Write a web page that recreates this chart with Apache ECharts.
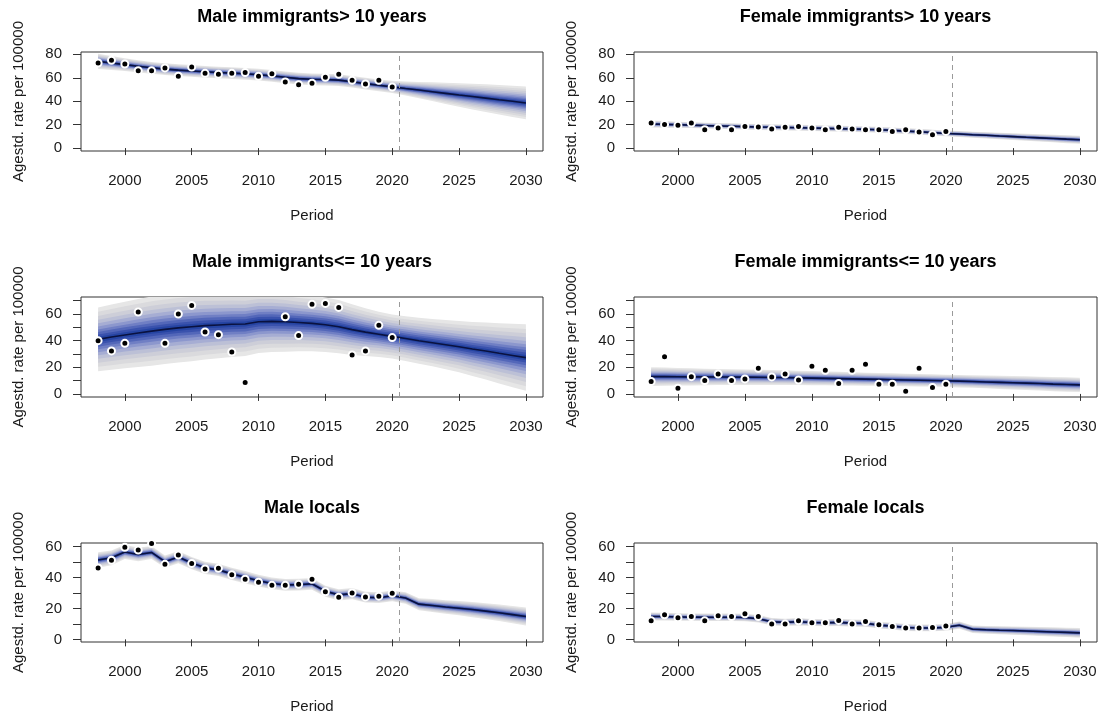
<!DOCTYPE html>
<html>
<head>
<meta charset="utf-8">
<script src="https://cdn.jsdelivr.net/npm/echarts@6/dist/echarts.min.js"></script>
<style>
  html, body { margin: 0; padding: 0; background: #ffffff; }
  #chart { width: 1102px; height: 718px; }
</style>
</head>
<body>
<div id="chart"></div>
<script>
// Projection years (fitted + forecast) and observation years
const years = [1998, 1999, 2000, 2001, 2002, 2003, 2004, 2005, 2006, 2007, 2008,
  2009, 2010, 2011, 2012, 2013, 2014, 2015, 2016, 2017, 2018, 2019, 2020,
  2021, 2022, 2023, 2024, 2025, 2026, 2027, 2028, 2029, 2030];
const obsYears = [1998, 1999, 2000, 2001, 2002, 2003, 2004, 2005, 2006, 2007, 2008,
  2009, 2010, 2011, 2012, 2013, 2014, 2015, 2016, 2017, 2018, 2019, 2020];

const xTicks = [2000, 2005, 2010, 2015, 2020, 2025, 2030];
const forecastStart = 2020.5;

// Male immigrants > 10 years
const obsMaleLong = [72.6, 74.9, 71.8, 66.1, 66.1, 68.4, 61.3, 69.2, 63.8, 63.0, 63.8,
  64.4, 61.3, 63.5, 56.4, 54.1, 55.3, 60.4, 63.0, 57.8, 54.7, 57.8, 52.1];
const medMaleLong = [74.0, 72.6, 71.2, 69.8, 68.5, 67.4, 66.5, 65.8, 65.1, 64.5, 64.0,
  63.4, 62.6, 61.6, 60.4, 59.3, 58.7, 58.5, 58.0, 56.6, 55.0, 53.6, 52.2,
  50.8, 49.5, 48.1, 46.7, 45.3, 44.0, 42.6, 41.2, 39.9, 38.5];
const spreadMaleLong = [6.5, 6.0, 5.5, 5.2, 5.0, 5.0, 5.0, 5.0, 5.0, 5.0, 5.0,
  5.0, 5.0, 5.0, 5.0, 5.0, 5.0, 5.0, 5.0, 5.0, 5.0, 5.0, 5.2,
  6.0, 7.0, 8.0, 9.0, 10.0, 11.0, 11.8, 12.6, 13.3, 14.0];

// Female immigrants > 10 years
const obsFemaleLong = [21.4, 20.2, 19.4, 21.4, 15.7, 17.1, 15.7, 18.5, 17.9, 16.2, 17.7,
  18.5, 17.1, 15.7, 17.7, 16.2, 15.7, 15.7, 14.2, 15.7, 13.7, 11.4, 14.2];
const medFemaleLong = [20.5, 20.2, 19.9, 19.6, 19.2, 18.9, 18.6, 18.3, 18.0, 17.8, 17.6,
  17.4, 17.1, 16.8, 16.6, 16.3, 16.0, 15.6, 15.1, 14.5, 13.9, 13.2, 12.5,
  12.0, 11.4, 10.9, 10.3, 9.8, 9.2, 8.7, 8.2, 7.6, 7.1];
const spreadFemaleLong = [3.0, 2.8, 2.6, 2.5, 2.5, 2.5, 2.5, 2.5, 2.5, 2.5, 2.5,
  2.5, 2.5, 2.5, 2.5, 2.5, 2.5, 2.5, 2.5, 2.5, 2.5, 2.5, 2.4,
  2.5, 2.6, 2.7, 2.8, 2.9, 3.0, 3.1, 3.2, 3.4, 3.5];

// Male immigrants <= 10 years
const obsMaleShort = [40.0, 32.3, 38.0, 61.5, null, 38.0, 60.0, 66.5, 46.5, 44.5, 31.5,
  8.5, null, null, 58.0, 43.8, 67.3, 68.0, 65.0, 29.3, 32.3, 51.5, 42.3];
const medMaleShort = [41.0, 42.7, 44.3, 45.8, 47.2, 48.5, 49.6, 50.5, 51.3, 51.8, 52.3,
  52.5, 54.2, 54.5, 54.2, 53.6, 53.0, 52.0, 50.5, 48.3, 46.4, 44.8, 43.2,
  41.6, 40.0, 38.5, 37.0, 35.5, 33.8, 32.2, 30.5, 28.9, 27.3];
const spreadMaleShort = [24.0, 24.5, 25.0, 25.5, 26.0, 26.0, 26.0, 26.0, 25.5, 25.0, 24.5,
  24.0, 23.5, 23.0, 22.5, 21.5, 21.0, 20.5, 20.0, 19.0, 18.0, 17.0, 16.5,
  16.8, 17.3, 17.8, 18.5, 19.2, 20.3, 21.4, 22.6, 23.8, 25.0];

// Female immigrants <= 10 years
const obsFemaleShort = [9.3, 28.0, 4.3, 13.0, 10.0, 15.0, 10.0, 11.3, 19.3, 12.8, 15.0,
  10.5, 20.8, 17.8, 7.8, 17.8, 22.3, 7.3, 7.3, 2.0, 19.3, 4.8, 7.3];
const medFemaleShort = [13.0, 13.0, 12.9, 12.8, 12.8, 12.7, 12.7, 12.6, 12.5, 12.4, 12.3,
  12.1, 11.9, 11.7, 11.5, 11.3, 11.1, 10.9, 10.7, 10.5, 10.3, 10.1, 9.9,
  9.6, 9.3, 9.0, 8.7, 8.4, 8.1, 7.8, 7.4, 7.1, 6.8];
const spreadFemaleShort = [7.0, 6.8, 6.6, 6.4, 6.2, 6.0, 5.9, 5.8, 5.7, 5.6, 5.5,
  5.4, 5.3, 5.2, 5.1, 5.0, 4.9, 4.8, 4.8, 4.7, 4.7, 4.6, 4.6,
  4.7, 4.7, 4.8, 4.9, 5.0, 5.1, 5.2, 5.3, 5.4, 5.4];

// Male locals
const obsMaleLocal = [46.2, 51.2, 59.6, 57.8, 62.0, 48.6, 54.6, 49.2, 45.6, 46.0, 41.9,
  38.9, 37.0, 35.0, 35.0, 35.7, 38.9, 30.8, 27.3, 30.1, 27.5, 28.0, 29.9];
const medMaleLocal = [51.4, 52.8, 56.6, 55.0, 56.3, 50.3, 53.3, 49.4, 46.3, 45.0, 42.4,
  40.2, 38.0, 36.2, 35.3, 35.4, 36.0, 31.2, 28.8, 29.6, 27.3, 27.0, 28.2,
  26.8, 22.8, 21.9, 21.0, 20.2, 19.3, 18.3, 17.2, 16.0, 14.8];
const spreadMaleLocal = [5.0, 4.8, 4.6, 4.4, 4.2, 4.0, 4.0, 4.0, 4.0, 4.0, 4.0,
  4.0, 3.8, 3.8, 3.8, 3.8, 3.8, 3.6, 3.6, 3.6, 3.5, 3.5, 3.5,
  3.7, 3.9, 4.2, 4.4, 4.6, 4.9, 5.1, 5.3, 5.6, 5.8];

// Female locals
const obsFemaleLocal = [12.0, 15.9, 14.0, 14.8, 12.0, 15.3, 14.8, 16.6, 14.8, 9.9, 9.9,
  12.0, 10.8, 10.8, 12.3, 9.9, 11.6, 9.5, 8.4, 7.3, 7.3, 7.7, 8.6];
const medFemaleLocal = [14.8, 14.8, 14.5, 14.4, 14.3, 14.3, 14.3, 14.2, 13.4, 11.4, 11.0,
  11.4, 10.9, 10.8, 11.0, 10.5, 10.4, 9.2, 8.6, 7.7, 7.4, 7.4, 7.8,
  9.2, 6.6, 6.2, 5.9, 5.7, 5.4, 5.1, 4.8, 4.5, 4.2];
const spreadFemaleLocal = [2.6, 2.5, 2.4, 2.4, 2.4, 2.4, 2.4, 2.4, 2.4, 2.4, 2.4,
  2.4, 2.3, 2.3, 2.3, 2.3, 2.3, 2.2, 2.2, 2.2, 2.2, 2.2, 2.2,
  2.3, 2.4, 2.5, 2.6, 2.7, 2.8, 2.9, 3.0, 3.0, 3.1];

// Y tick sets
const yTicks80 = [0, 20, 40, 60, 80];
const yLabels80 = [0, 20, 40, 60, 80];
const yTicks70 = [0, 10, 20, 30, 40, 50, 60, 70];
const yLabels70 = [0, 20, 40, 60];
const yTicks60 = [0, 10, 20, 30, 40, 50, 60];
const yLabels60 = [0, 20, 40, 60];

// Fan layers: fraction of the outer half-width, outermost first
const fanLevels = [1.00, 0.86, 0.73, 0.61, 0.50, 0.40, 0.31, 0.23, 0.15, 0.08];
const fanColors = ['#e6e6e6', '#dadadd', '#cdced8', '#bcc0d6', '#a6add3',
  '#8c97cd', '#707fc4', '#5367b9', '#3a52ad', '#2544a2'];

const panels = [
  { title: 'Male immigrants> 10 years', obs: obsMaleLong, med: medMaleLong, spread: spreadMaleLong,
    yMin: -2.5, yMax: 82, yTicks: yTicks80, yLabels: yLabels80,
    box: { left: 81, top: 52, width: 462, height: 99 } },
  { title: 'Female immigrants> 10 years', obs: obsFemaleLong, med: medFemaleLong, spread: spreadFemaleLong,
    yMin: -2.5, yMax: 82, yTicks: yTicks80, yLabels: yLabels80,
    box: { left: 634, top: 52, width: 463, height: 99 } },
  { title: 'Male immigrants<= 10 years', obs: obsMaleShort, med: medMaleShort, spread: spreadMaleShort,
    yMin: -2.3, yMax: 72.8, yTicks: yTicks70, yLabels: yLabels70,
    box: { left: 81, top: 297, width: 462, height: 100 } },
  { title: 'Female immigrants<= 10 years', obs: obsFemaleShort, med: medFemaleShort, spread: spreadFemaleShort,
    yMin: -2.3, yMax: 72.8, yTicks: yTicks70, yLabels: yLabels70,
    box: { left: 634, top: 297, width: 463, height: 100 } },
  { title: 'Male locals', obs: obsMaleLocal, med: medMaleLocal, spread: spreadMaleLocal,
    yMin: -1.7, yMax: 62.4, yTicks: yTicks60, yLabels: yLabels60,
    box: { left: 81, top: 543, width: 462, height: 99 } },
  { title: 'Female locals', obs: obsFemaleLocal, med: medFemaleLocal, spread: spreadFemaleLocal,
    yMin: -1.7, yMax: 62.4, yTicks: yTicks60, yLabels: yLabels60,
    box: { left: 634, top: 543, width: 463, height: 99 } }
];

const FONT = '"Liberation Sans", Arial, sans-serif';
const TEXT = '#1a1a1a';

function plainNumber(v) { return String(v); }

function fanRenderer(med, spread) {
  return function (params, api) {
    const children = [];
    fanLevels.forEach(function (f, k) {
      const up = [];
      const lo = [];
      years.forEach(function (y, i) {
        up.push(api.coord([y, med[i] + spread[i] * f]));
        lo.push(api.coord([y, med[i] - spread[i] * f]));
      });
      children.push({
        type: 'polygon',
        shape: { points: up.concat(lo.reverse()) },
        style: { fill: fanColors[k] },
        silent: true
      });
    });
    return { type: 'group', children: children };
  };
}

const grids = [], xAxes = [], yAxes = [], series = [], graphics = [];

panels.forEach(function (p, i) {
  grids.push({
    left: p.box.left, top: p.box.top, width: p.box.width, height: p.box.height,
    show: true, borderColor: '#333', borderWidth: 1, backgroundColor: 'transparent'
  });
  xAxes.push({
    type: 'value', gridIndex: i, min: 1996.72, max: 2031.28,
    axisLine: { show: false }, splitLine: { show: false },
    axisTick: { show: true, customValues: xTicks, length: 7, lineStyle: { color: '#333' } },
    axisLabel: { customValues: xTicks, formatter: plainNumber, margin: 22, fontSize: 15,
      color: TEXT, fontFamily: FONT },
    name: 'Period', nameLocation: 'middle', nameGap: 57,
    nameTextStyle: { fontSize: 15, color: TEXT, fontFamily: FONT }
  });
  yAxes.push({
    type: 'value', gridIndex: i, min: p.yMin, max: p.yMax,
    axisLine: { show: false }, splitLine: { show: false },
    axisTick: { show: true, customValues: p.yTicks, length: 8, lineStyle: { color: '#333' } },
    axisLabel: { customValues: p.yLabels, formatter: plainNumber, margin: 19, fontSize: 15,
      color: TEXT, fontFamily: FONT },
    name: 'Agestd. rate per 100000', nameLocation: 'middle', nameGap: 55,
    nameTextStyle: { fontSize: 15, color: TEXT, fontFamily: FONT }
  });

  series.push({
    type: 'custom', xAxisIndex: i, yAxisIndex: i, clip: true, silent: true, z: 1,
    data: [[2010, 30]],
    renderItem: fanRenderer(p.med, p.spread)
  });
  series.push({
    type: 'line', xAxisIndex: i, yAxisIndex: i, z: 3,
    data: years.map(function (y, k) { return [y, p.med[k]]; }),
    showSymbol: false, symbol: 'none',
    lineStyle: { color: '#0a1240', width: 1.6 },
    markLine: {
      silent: true, symbol: ['none', 'none'], label: { show: false },
      lineStyle: { color: '#9a9a9a', type: [5, 4], width: 1 },
      data: [{ xAxis: forecastStart }]
    }
  });
  series.push({
    type: 'scatter', xAxisIndex: i, yAxisIndex: i, z: 4, clip: true,
    data: obsYears.map(function (y, k) { return [y, p.obs[k]]; })
      .filter(function (d) { return d[1] !== null; }),
    symbol: 'circle', symbolSize: 7,
    itemStyle: { color: '#000', borderColor: '#fff', borderWidth: 2, opacity: 1 }
  });

  graphics.push({
    type: 'text',
    x: p.box.left + p.box.width / 2, y: p.box.top - 35,
    style: {
      text: p.title, fontSize: 18, fontWeight: 'bold', fontFamily: FONT,
      fill: '#000', textAlign: 'center', textVerticalAlign: 'middle'
    }
  });
});

const chart = echarts.init(document.getElementById('chart'), null, { renderer: 'canvas' });
chart.setOption({
  animation: false,
  backgroundColor: '#ffffff',
  grid: grids,
  xAxis: xAxes,
  yAxis: yAxes,
  series: series,
  graphic: graphics
});
</script>
</body>
</html>
